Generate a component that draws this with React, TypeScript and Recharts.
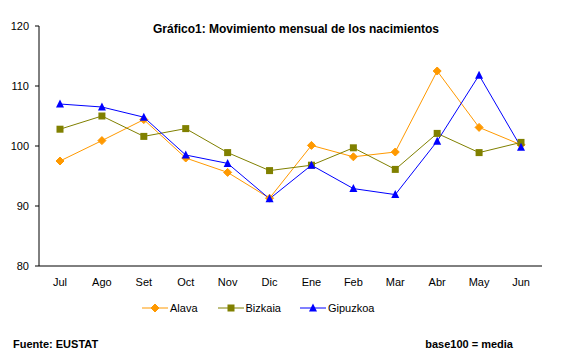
import React from 'react';
import { LineChart, Line, XAxis, YAxis, Legend } from 'recharts';

const months = ['Jul', 'Ago', 'Set', 'Oct', 'Nov', 'Dic', 'Ene', 'Feb', 'Mar', 'Abr', 'May', 'Jun'];
const alava = [97.5, 100.9, 104.4, 98.0, 95.6, 91.3, 100.1, 98.2, 99.0, 112.5, 103.1, 100.2];
const bizkaia = [102.8, 105.0, 101.6, 102.9, 98.9, 95.9, 96.8, 99.7, 96.1, 102.1, 98.9, 100.6];
const gipuzkoa = [107.0, 106.5, 104.8, 98.5, 97.1, 91.2, 96.8, 92.9, 91.9, 100.8, 111.8, 99.8];
const yTicks = [80, 90, 100, 110, 120];

const ORANGE = '#FF9900';
const OLIVE = '#808000';
const BLUE = '#0000FF';

const data = months.map((m, i) => ({
  month: m,
  Alava: alava[i],
  Bizkaia: bizkaia[i],
  Gipuzkoa: gipuzkoa[i],
}));

const font = '"Liberation Sans", Arial, sans-serif';

const Diamond = (props: any) => {
  const { cx, cy } = props;
  if (cx == null || cy == null) return null;
  return (
    <polygon
      points={`${cx},${cy - 4} ${cx + 4},${cy} ${cx},${cy + 4} ${cx - 4},${cy}`}
      fill={ORANGE}
      stroke={ORANGE}
      strokeWidth={1}
    />
  );
};

const Square = (props: any) => {
  const { cx, cy } = props;
  if (cx == null || cy == null) return null;
  return <rect x={cx - 3.5} y={cy - 3.5} width={7} height={7} fill={OLIVE} />;
};

const Triangle = (props: any) => {
  const { cx, cy } = props;
  if (cx == null || cy == null) return null;
  return (
    <polygon
      points={`${cx},${cy - 4.5} ${cx + 4},${cy + 3.5} ${cx - 4},${cy + 3.5}`}
      fill={BLUE}
    />
  );
};

const legendItems = [
  { name: 'Alava', color: ORANGE, Marker: Diamond, gap: 20 },
  { name: 'Bizkaia', color: OLIVE, Marker: Square, gap: 19 },
  { name: 'Gipuzkoa', color: BLUE, Marker: Triangle, gap: 0 },
];

const LegendContent = () => (
  <div style={{ display: 'flex', alignItems: 'center', fontFamily: font, fontSize: 11, color: '#000' }}>
    {legendItems.map(({ name, color, Marker, gap }) => (
      <div key={name} style={{ display: 'flex', alignItems: 'center', marginRight: gap }}>
        <svg width={26} height={12}>
          <line x1={0} y1={6} x2={26} y2={6} stroke={color} strokeWidth={1} />
          <Marker cx={13} cy={6} />
        </svg>
        <span style={{ marginLeft: 2 }}>{name}</span>
      </div>
    ))}
  </div>
);

export default function App() {
  return (
    <div
      style={{
        position: 'absolute',
        left: 0,
        top: 0,
        width: 565,
        height: 363,
        background: '#fff',
        fontFamily: font,
      }}
    >
      <div
        style={{
          position: 'absolute',
          left: 0,
          width: 592,
          top: 22,
          textAlign: 'center',
          fontSize: 12,
          fontWeight: 'bold',
        }}
      >
        Gráfico1: Movimiento mensual de los nacimientos
      </div>
      <LineChart width={565} height={363} data={data} margin={{ top: 26, right: 23, left: 0, bottom: 67 }}>
        <XAxis
          dataKey="month"
          height={30}
          padding={{ left: 21, right: 21 }}
          tickLine={false}
          tickSize={0}
          tickMargin={12}
          axisLine={{ stroke: '#000' }}
          tick={{ fill: '#000', fontSize: 11, fontFamily: font }}
          interval={0}
        />
        <YAxis
          width={39}
          domain={[80, 120]}
          ticks={yTicks}
          tickSize={4}
          tickMargin={6}
          axisLine={{ stroke: '#000' }}
          tickLine={{ stroke: '#000' }}
          tick={{ fill: '#000', fontSize: 11, fontFamily: font }}
          allowDataOverflow
        />
        <Legend
          verticalAlign="middle"
          layout="horizontal"
          content={<LegendContent />}
          wrapperStyle={{ top: 302, left: 142, width: 'auto' }}
        />
        <Line
          type="linear"
          dataKey="Alava"
          stroke={ORANGE}
          strokeWidth={1}
          dot={<Diamond />}
          activeDot={false}
          isAnimationActive={false}
        />
        <Line
          type="linear"
          dataKey="Bizkaia"
          stroke={OLIVE}
          strokeWidth={1}
          dot={<Square />}
          activeDot={false}
          isAnimationActive={false}
        />
        <Line
          type="linear"
          dataKey="Gipuzkoa"
          stroke={BLUE}
          strokeWidth={1}
          dot={<Triangle />}
          activeDot={false}
          isAnimationActive={false}
        />
      </LineChart>
      <div style={{ position: 'absolute', left: 13, top: 338, fontSize: 11, fontWeight: 'bold' }}>
        Fuente: EUSTAT
      </div>
      <div style={{ position: 'absolute', right: 52, top: 338, fontSize: 11, fontWeight: 'bold' }}>
        base100 = media
      </div>
    </div>
  );
}
